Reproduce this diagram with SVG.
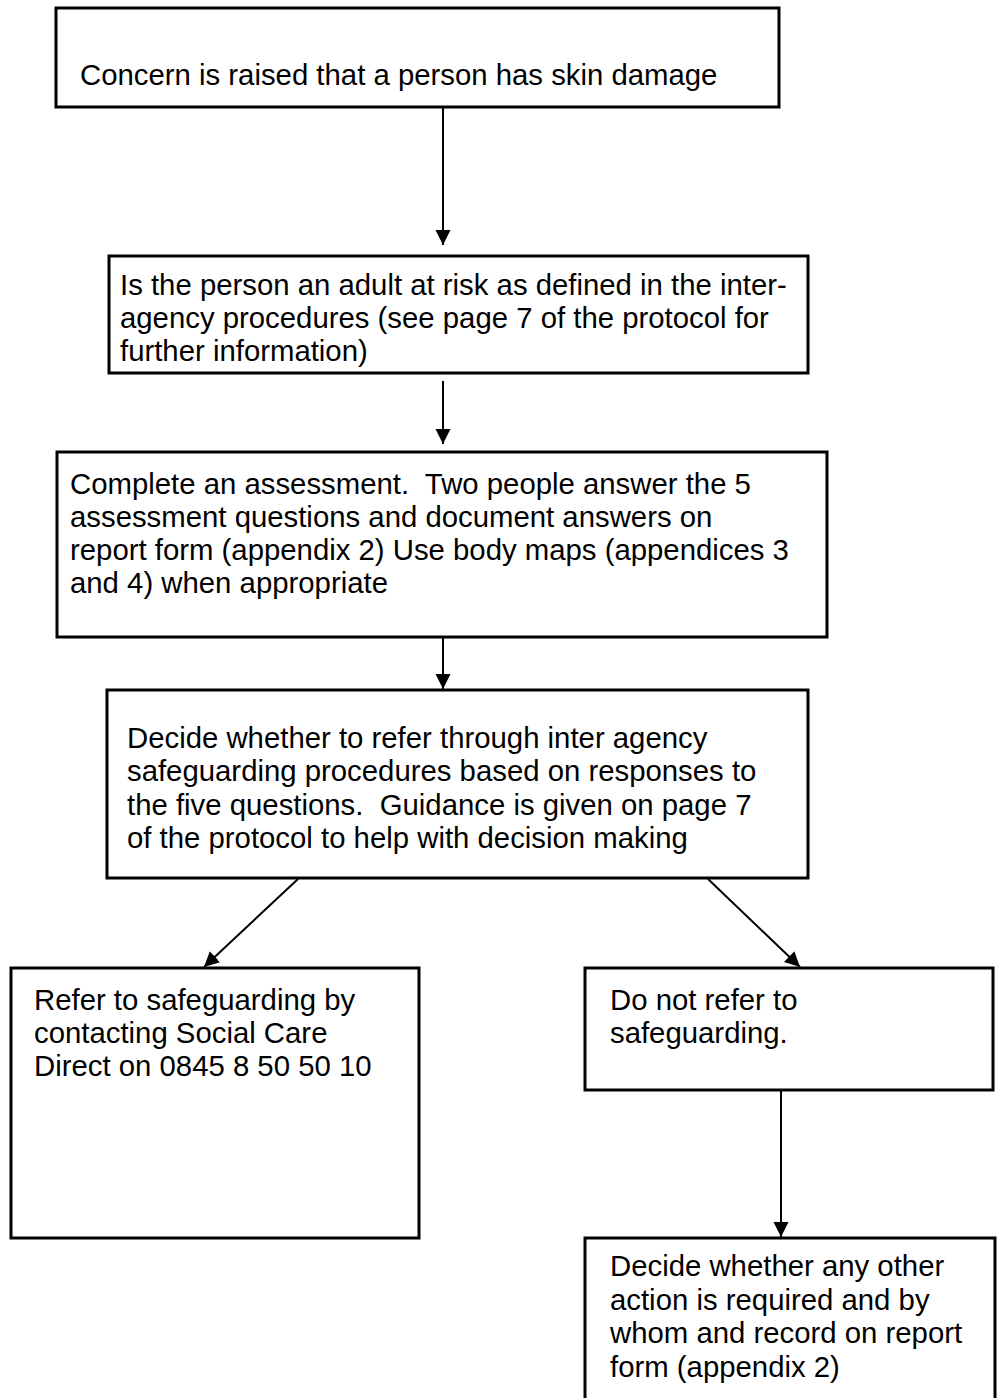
<svg xmlns="http://www.w3.org/2000/svg" width="1008" height="1398" viewBox="0 0 1008 1398">
<defs>
<marker id="ah" markerUnits="userSpaceOnUse" markerWidth="16" markerHeight="16" viewBox="0 0 16 16" refX="15" refY="8" orient="auto">
<path d="M0,0.5 L15,8 L0,15.5 Z" fill="#000"/>
</marker>
<style>
.box{fill:#fff;stroke:#000;stroke-width:3}
.t{font-family:"Liberation Sans",Arial,sans-serif;font-size:29.33px;fill:#000;white-space:pre}
.c{fill:none;stroke:#000;stroke-width:2;marker-end:url(#ah)}
</style>
</defs>
<rect width="1008" height="1398" fill="#fff"/>
<g id="connectors">
<line class="c" x1="443" y1="108" x2="443" y2="245"/>
<line class="c" x1="443" y1="381" x2="443" y2="444"/>
<line class="c" x1="443" y1="638" x2="443" y2="689"/>
<line class="c" x1="298" y1="879" x2="204" y2="967"/>
<line class="c" x1="708" y1="879" x2="800" y2="967"/>
<line class="c" x1="781" y1="1091" x2="781" y2="1237"/>
</g>
<g id="n1">
<rect class="box" x="56" y="8" width="723" height="99"/>
<text class="t" x="80" y="85">Concern is raised that a person has skin damage</text>
</g>
<g id="n2">
<rect class="box" x="109" y="256" width="699" height="117"/>
<text class="t" x="120" y="295">Is the person an adult at risk as defined in the inter-</text>
<text class="t" x="120" y="328">agency procedures (see page 7 of the protocol for</text>
<text class="t" x="120" y="361">further information)</text>
</g>
<g id="n3">
<rect class="box" x="57" y="452" width="770" height="185"/>
<text class="t" x="70" xml:space="preserve" y="494">Complete an assessment.  Two people answer the 5</text>
<text class="t" x="70" y="527">assessment questions and document answers on</text>
<text class="t" x="70" y="560">report form (appendix 2) Use body maps (appendices 3</text>
<text class="t" x="70" y="593">and 4) when appropriate</text>
</g>
<g id="n4">
<rect class="box" x="107" y="690" width="701" height="188"/>
<text class="t" x="127" y="748">Decide whether to refer through inter agency</text>
<text class="t" x="127" y="781">safeguarding procedures based on responses to</text>
<text class="t" x="127" xml:space="preserve" y="815">the five questions.  Guidance is given on page 7</text>
<text class="t" x="127" y="848">of the protocol to help with decision making</text>
</g>
<g id="n5">
<rect class="box" x="11" y="968" width="408" height="270"/>
<text class="t" x="34" y="1010">Refer to safeguarding by</text>
<text class="t" x="34" y="1043">contacting Social Care</text>
<text class="t" x="34" y="1076">Direct on 0845 8 50 50 10</text>
</g>
<g id="n6">
<rect class="box" x="585" y="968" width="408" height="122"/>
<text class="t" x="610" y="1010">Do not refer to</text>
<text class="t" x="610" y="1043">safeguarding.</text>
</g>
<g id="n7">
<rect class="box" x="585" y="1238" width="410" height="200"/>
<text class="t" x="610" y="1276">Decide whether any other</text>
<text class="t" x="610" y="1310">action is required and by</text>
<text class="t" x="610" y="1343">whom and record on report</text>
<text class="t" x="610" y="1377">form (appendix 2)</text>
</g>
</svg>
